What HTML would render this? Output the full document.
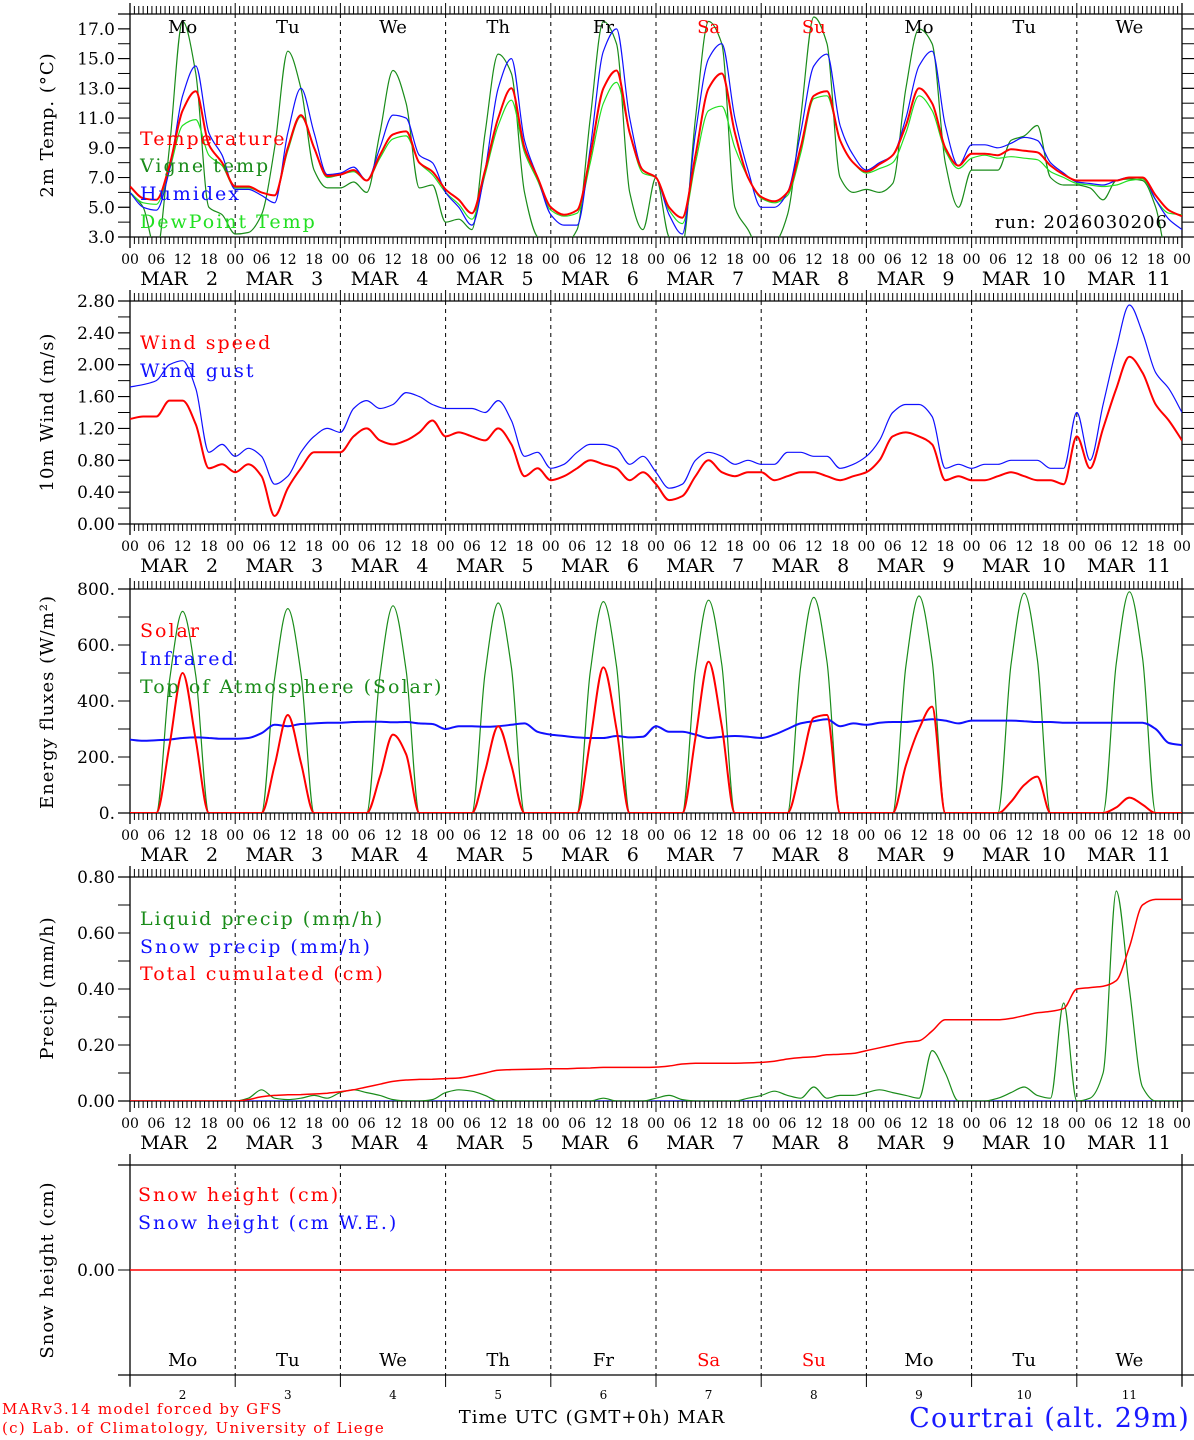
<!DOCTYPE html>
<html><head><meta charset="utf-8"><title>MAR meteogram Courtrai</title>
<style>
html,body{margin:0;padding:0;background:#fff;}
svg{display:block;font-family:"DejaVu Serif","Liberation Serif",serif;}
</style></head>
<body>
<svg id="chart" width="1194" height="1440" viewBox="0 0 1194 1440" xmlns="http://www.w3.org/2000/svg"></svg>
<script>
// ---- data (3-hourly, 81 points from MAR 2 00h to MAR 12 00h) ----
const dayNums = ["2","3","4","5","6","7","8","9","10","11"];
const dayNames = ["Mo","Tu","We","Th","Fr","Sa","Su","Mo","Tu","We"];
const hourLabels = ["00","06","12","18"];
const tempTicks = ["3.0","5.0","7.0","9.0","11.0","13.0","15.0","17.0"];
const windTicks = ["0.00","0.40","0.80","1.20","1.60","2.00","2.40","2.80"];
const fluxTicks = ["0.","200.","400.","600.","800."];
const precipTicks = ["0.00","0.20","0.40","0.60","0.80"];

const temperature = [6.4,5.6,5.5,7.8,11.5,12.8,9.2,8.0, 6.4,6.4,6.0,5.8,9.0,11.2,9.0,7.1, 7.2,7.5,6.8,8.5,9.9,10.1,8.0,7.4, 6.2,5.5,4.6,7.5,11.0,13.0,9.0,7.0, 5.0,4.5,4.8,8.5,13.0,14.2,10.0,7.5, 7.0,5.0,4.3,8.5,13.0,14.0,10.0,7.0, 5.7,5.4,6.0,9.0,12.5,12.8,9.5,8.0, 7.4,7.9,8.5,10.5,13.0,12.0,9.0,7.8, 8.6,8.6,8.5,8.9,8.8,8.7,7.8,7.2, 6.8,6.8,6.8,6.8,7.0,7.0,5.8,4.8, 4.4];
const vigneTemp = [6.0,5.0,2.0,9.0,17.5,14.0,5.0,4.5, 3.2,3.3,4.5,9.0,15.5,13.0,7.5,6.3, 6.3,6.7,6.0,10.0,14.2,12.0,6.3,6.5, 4.0,4.2,3.5,10.0,15.3,14.0,6.0,3.0, 2.5,2.5,3.5,11.0,17.5,16.0,6.0,3.5, 7.0,3.0,2.5,11.0,17.5,16.0,5.0,3.5, 2.0,2.5,4.5,11.0,17.8,16.0,7.0,6.0, 6.2,6.0,6.6,13.0,17.0,16.0,8.0,5.0, 7.5,7.5,7.5,9.5,9.8,10.5,7.0,6.5, 6.5,6.3,5.5,6.8,6.9,6.8,5.0,1.0, 0.0];
const humidex = [6.0,5.0,4.8,7.5,12.5,14.5,10.0,8.5, 6.2,6.2,5.8,5.3,10.0,13.0,10.0,7.2, 7.3,7.7,6.8,9.0,11.2,11.0,8.5,8.0, 6.0,5.0,3.8,7.5,13.0,15.0,9.5,7.0, 4.5,3.8,3.8,9.0,15.5,17.0,11.0,7.5, 7.0,4.5,3.2,10.0,15.0,16.0,11.0,7.5, 5.0,5.0,6.0,10.0,14.5,15.3,10.5,8.5, 7.5,8.0,8.5,11.0,14.5,15.5,10.5,7.8, 9.2,9.2,9.0,9.3,9.7,9.5,8.0,7.3, 6.7,6.6,6.5,6.8,7.0,7.0,5.5,4.2, 3.5];
const dewPoint = [6.0,5.3,5.2,7.5,10.5,10.9,8.5,7.8, 6.3,6.3,6.0,5.8,8.8,11.1,9.0,7.0, 7.2,7.4,6.8,8.3,9.6,9.8,8.0,7.2, 6.0,5.2,4.2,7.2,10.5,12.2,8.7,6.8, 4.8,4.4,4.6,8.0,12.0,13.4,10.0,7.3, 7.0,4.8,3.9,8.0,11.5,11.8,9.0,7.0, 5.6,5.3,5.8,8.6,12.3,12.5,9.5,8.0, 7.3,7.6,8.0,10.0,12.5,11.5,8.8,7.6, 8.3,8.5,8.3,8.4,8.3,8.2,7.4,7.0, 6.6,6.5,6.4,6.5,6.8,6.9,5.5,4.6, 4.5];

const windSpeed = [1.32,1.35,1.35,1.55,1.55,1.25,0.7,0.75, 0.65,0.75,0.6,0.1,0.45,0.7,0.9,0.9, 0.9,1.1,1.2,1.05,1.0,1.05,1.15,1.3, 1.1,1.15,1.1,1.05,1.2,1.0,0.6,0.7, 0.55,0.6,0.7,0.8,0.75,0.7,0.55,0.65, 0.5,0.3,0.35,0.6,0.8,0.65,0.6,0.65, 0.65,0.55,0.6,0.65,0.65,0.6,0.55,0.6, 0.65,0.8,1.1,1.15,1.1,1.0,0.55,0.6, 0.55,0.55,0.6,0.65,0.6,0.55,0.55,0.5, 1.1,0.7,1.2,1.7,2.1,1.9,1.5,1.3, 1.05];
const windGust = [1.72,1.75,1.8,2.0,2.05,1.7,0.9,1.0, 0.85,0.95,0.85,0.5,0.6,0.9,1.1,1.2, 1.15,1.45,1.55,1.45,1.5,1.65,1.6,1.5, 1.45,1.45,1.45,1.4,1.55,1.3,0.85,0.9, 0.7,0.75,0.9,1.0,1.0,0.95,0.75,0.85, 0.65,0.45,0.5,0.8,0.9,0.85,0.75,0.8, 0.75,0.75,0.9,0.9,0.85,0.85,0.7,0.75, 0.85,1.05,1.4,1.5,1.5,1.35,0.7,0.75, 0.7,0.75,0.75,0.8,0.8,0.8,0.7,0.7, 1.4,0.8,1.5,2.2,2.75,2.4,1.9,1.7, 1.4];

const solar = [0,0,0,240,500,260,0,0, 0,0,0,170,350,180,0,0, 0,0,0,130,280,210,0,0, 0,0,0,150,310,170,0,0, 0,0,0,260,520,300,0,0, 0,0,0,270,540,310,0,0, 0,0,0,160,340,350,0,0, 0,0,0,170,300,380,0,0, 0,0,0,40,100,130,0,0, 0,0,0,20,55,30,0,0, 0];
const infrared = [262,258,260,262,268,270,268,265, 265,268,285,315,310,318,320,322, 322,325,326,326,324,325,320,318, 300,310,310,308,310,315,320,290, 280,275,270,268,268,275,270,272, 310,290,290,280,268,272,275,272, 268,280,300,320,328,335,310,320, 315,322,325,325,330,335,330,320, 330,330,330,330,328,325,325,322, 322,322,322,322,322,322,300,250, 242];
const topOfAtmosphere = [0,0,0,470,720,490,0,0, 0,0,0,480,730,500,0,0, 0,0,0,490,740,510,0,0, 0,0,0,500,750,520,0,0, 0,0,0,505,755,525,0,0, 0,0,0,510,760,530,0,0, 0,0,0,520,770,540,0,0, 0,0,0,525,775,545,0,0, 0,0,0,530,785,550,0,0, 0,0,0,535,790,555,0,0, 0];

const liquidPrecip = [0,0,0,0,0,0,0,0, 0,0.01,0.04,0.01,0.005,0.01,0.02,0.01, 0.03,0.04,0.03,0.02,0.005,0,0,0.005, 0.03,0.04,0.035,0.02,0,0,0,0, 0,0,0,0,0.01,0,0,0, 0.01,0.02,0.005,0,0,0,0,0.01, 0.02,0.035,0.02,0.01,0.05,0.01,0.02,0.02, 0.03,0.04,0.03,0.02,0.01,0.18,0.1,0, 0,0,0.01,0.03,0.05,0.02,0.01,0.35, 0,0.01,0.1,0.75,0.4,0.05,0,0, 0];
const snowPrecip = [0,0,0,0,0,0,0,0, 0,0,0,0,0,0,0,0, 0,0,0,0,0,0,0,0, 0,0,0,0,0,0,0,0, 0,0,0,0,0,0,0,0, 0,0,0,0,0,0,0,0, 0,0,0,0,0,0,0,0, 0,0,0,0,0,0,0,0, 0,0,0,0,0,0,0,0, 0,0,0,0,0,0,0,0, 0];
const totalCumulated = [0,0,0,0,0,0,0,0, 0,0.005,0.015,0.02,0.022,0.023,0.025,0.028, 0.033,0.04,0.05,0.06,0.07,0.075,0.077,0.078, 0.08,0.082,0.09,0.1,0.11,0.112,0.113,0.114, 0.115,0.115,0.117,0.118,0.12,0.12,0.12,0.12, 0.121,0.125,0.132,0.135,0.135,0.135,0.135,0.136, 0.138,0.142,0.15,0.155,0.158,0.165,0.167,0.17, 0.18,0.19,0.2,0.21,0.215,0.25,0.29,0.29, 0.29,0.29,0.29,0.295,0.305,0.315,0.32,0.33, 0.40,0.405,0.41,0.43,0.55,0.70,0.72,0.72, 0.72];
const snowHeight = [0,0,0,0,0,0,0,0, 0,0,0,0,0,0,0,0, 0,0,0,0,0,0,0,0, 0,0,0,0,0,0,0,0, 0,0,0,0,0,0,0,0, 0,0,0,0,0,0,0,0, 0,0,0,0,0,0,0,0, 0,0,0,0,0,0,0,0, 0,0,0,0,0,0,0,0, 0,0,0,0,0,0,0,0, 0];

// ---- geometry ----
const NS = "http://www.w3.org/2000/svg";
const svg = document.getElementById("chart");
const X0 = 130, X1 = 1182, HOURS = 240;
function xScale(h){ return X0 + h*(X1-X0)/HOURS; }
function mk(tag, attrs, parent){
  const e = document.createElementNS(NS, tag);
  for (const k in attrs) e.setAttribute(k, attrs[k]);
  (parent||svg).appendChild(e);
  return e;
}
function txt(s, x, y, size, fill, anchor, parent){
  const t = mk("text", {x:x, y:y, "font-size":size, fill:fill||"#000", "text-anchor":anchor||"start"}, parent);
  t.textContent = s;
  return t;
}

const panels = [
  {name:"temperature-panel", top:14, bot:237, vmin:3, vmax:18},
  {name:"wind-panel", top:301, bot:524, vmin:0, vmax:2.8},
  {name:"energy-panel", top:589, bot:813, vmin:0, vmax:800},
  {name:"precip-panel", top:877, bot:1101, vmin:0, vmax:0.8},
  {name:"snow-panel", top:1165, bot:1375, vmin:-1, vmax:1}
];
function yScale(p, v){ return p.bot - (v - p.vmin)*(p.bot-p.top)/(p.vmax-p.vmin); }

function frame(p, idx){
  const g = mk("g", {});
  
  
  for (let d=1; d<10; d++){
    const x = xScale(d*24);
    mk("line",{x1:x,y1:p.top,x2:x,y2:p.bot,stroke:"#000","stroke-width":1,"stroke-dasharray":"4,4"},g);
  }
  mk("line",{x1:118,y1:p.top,x2:1194,y2:p.top,stroke:"#000","stroke-width":1.3},g);
  mk("line",{x1:118,y1:p.bot,x2:1194,y2:p.bot,stroke:"#000","stroke-width":1.3},g);
  mk("line",{x1:X0,y1:p.top-11,x2:X0,y2:p.bot+11,stroke:"#000","stroke-width":1.3},g);
  mk("line",{x1:X1,y1:p.top-11,x2:X1,y2:p.bot+11,stroke:"#000","stroke-width":1.3},g);
  if (idx < 4){
    for (let h=0; h<=HOURS; h++){
      const x = xScale(h);
      const big = h%24===0;
      mk("line",{x1:x,y1:p.top-(big?11:8),x2:x,y2:p.top,stroke:"#000","stroke-width":1},g);
      mk("line",{x1:x,y1:p.bot,x2:x,y2:p.bot+(big?11:7),stroke:"#000","stroke-width":1},g);
    }
    for (let d=0; d<=10; d++){
      for (let k=0;k<4;k++){
        if (d===10 && k>0) break;
        txt(hourLabels[k], xScale(d*24+k*6), p.bot+27, 14, "#000", "middle", g);
      }
    }
    for (let d=0; d<10; d++){
      const xc = xScale(d*24);
      txt("MAR", xc+34, p.bot+48, 19, "#000", "middle", g);
      txt(dayNums[d], xc+82, p.bot+48, 19, "#000", "middle", g);
    }
  } else {
    for (let d=0; d<=10; d++){
      const x = xScale(d*24);
      mk("line",{x1:x,y1:p.bot,x2:x,y2:p.bot+12,stroke:"#000","stroke-width":1},g);
    }
  }
  return g;
}
panels.forEach((p,i)=>frame(p,i));

function yTicks(p, labels, vals, minorStep){
  const g = mk("g",{});
  
  
  if (minorStep){
    for (let v=p.vmin; v<=p.vmax+1e-9; v+=minorStep){
      const y = yScale(p,v);
      mk("line",{x1:118,y1:y,x2:X0,y2:y,stroke:"#000"},g);
      mk("line",{x1:X1,y1:y,x2:1194,y2:y,stroke:"#000"},g);
    }
  }
  labels.forEach((lab,i)=>{
    const y = yScale(p, vals[i]);
    mk("line",{x1:118,y1:y,x2:X0,y2:y,stroke:"#000"},g);
    mk("line",{x1:X1,y1:y,x2:1194,y2:y,stroke:"#000"},g);
    txt(lab, 115, y+6, 17, "#000", "end", g);
  });
}
yTicks(panels[0], tempTicks, tempTicks.map(Number), 1);
yTicks(panels[1], windTicks, windTicks.map(Number), 0.2);
yTicks(panels[2], fluxTicks, fluxTicks.map(Number), 100);
yTicks(panels[3], precipTicks, precipTicks.map(Number), 0.1);
yTicks(panels[4], ["0.00"], [0], 0);

const defs = mk("defs",{});
panels.forEach((p,i)=>{
  const c = mk("clipPath",{id:"clip"+i},defs);
  mk("rect",{x:X0,y:p.top,width:X1-X0,height:p.bot-p.top},c);
});

function monoPath(xs, ys){
  const n = xs.length, d = [], m = new Array(n);
  for (let i=0;i<n-1;i++) d.push((ys[i+1]-ys[i])/(xs[i+1]-xs[i]));
  m[0]=d[0]; m[n-1]=d[n-2];
  for (let i=1;i<n-1;i++){
    if (d[i-1]*d[i] <= 0) m[i]=0;
    else m[i] = 2/(1/d[i-1]+1/d[i]);
  }
  let s = "M"+xs[0].toFixed(1)+","+ys[0].toFixed(1);
  for (let i=0;i<n-1;i++){
    const h = (xs[i+1]-xs[i])/3;
    s += " C"+(xs[i]+h).toFixed(1)+","+(ys[i]+m[i]*h).toFixed(1)+" "+(xs[i+1]-h).toFixed(1)+","+(ys[i+1]-m[i+1]*h).toFixed(1)+" "+xs[i+1].toFixed(1)+","+ys[i+1].toFixed(1);
  }
  return s;
}
function series(pi, arr, color, width, name){
  const p = panels[pi];
  const xs = arr.map((v,i)=> xScale(i*3));
  const ys = arr.map(v=> yScale(p,v));
  const pl = mk("path",{d:monoPath(xs,ys),fill:"none",stroke:color,"stroke-width":width,"stroke-linejoin":"round","clip-path":"url(#clip"+pi+")"});
  
  
}
series(0, vigneTemp, "#1a8c1a", 1.2, "vigne-temp-line");
series(0, dewPoint, "#22e022", 1.2, "dewpoint-line");
series(0, humidex, "#1010ff", 1.2, "humidex-line");
series(0, temperature, "#ff0000", 2, "temperature-line");
series(1, windGust, "#1010ff", 1.2, "wind-gust-line");
series(1, windSpeed, "#ff0000", 2, "wind-speed-line");
series(2, topOfAtmosphere, "#1a8c1a", 1.2, "toa-solar-line");
series(2, infrared, "#1010ff", 2, "infrared-line");
series(2, solar, "#ff0000", 2, "solar-line");
series(3, snowPrecip, "#1010ff", 1.2, "snow-precip-line");
series(3, liquidPrecip, "#1a8c1a", 1.2, "liquid-precip-line");
series(3, totalCumulated, "#ff0000", 1.5, "total-cumulated-line");
series(4, snowHeight, "#ff0000", 1.5, "snow-height-line");

function dayRow(y){
  dayNames.forEach((n,d)=>{
    const col = (d===5||d===6) ? "#ff0000" : "#000";
    const t = txt(n, xScale(d*24+12), y, 18, col, "middle");
    
    
  });
}
dayRow(33);
dayRow(1366);
dayNums.forEach((n,d)=>{
  const t = txt(n, xScale(d*24+12), 1399, 12, "#000", "middle");
  
  
});

function legend(items, x){
  items.forEach(it=>{
    const t = txt(it[0], x, it[2], 19, it[1], "start");
    t.setAttribute("letter-spacing","2");
    
    
  });
}
legend([["Temperature","#ff0000",145],["Vigne temp","#1a8c1a",172],["Humidex","#1010ff",200],["DewPoint Temp","#22e022",228]],140);
legend([["Wind speed","#ff0000",349],["Wind gust","#1010ff",377]],140);
legend([["Solar","#ff0000",637],["Infrared","#1010ff",665],["Top of Atmosphere (Solar)","#1a8c1a",693]],140);
legend([["Liquid precip (mm/h)","#1a8c1a",925],["Snow precip (mm/h)","#1010ff",953],["Total cumulated (cm)","#ff0000",980]],140);
legend([["Snow height (cm)","#ff0000",1201],["Snow height (cm W.E.)","#1010ff",1229]],138);

const run = txt("run: 2026030206", 1168, 228, 18, "#000", "end");
run.setAttribute("letter-spacing","1");



function yTitle(s, cy, name){
  const t = txt(s, 0, 0, 18, "#000", "middle");
  t.setAttribute("transform","translate(53,"+cy+") rotate(-90)");
  t.setAttribute("letter-spacing","1");
  
  
  return t;
}
yTitle("2m Temp. (\u00B0C)", 125, "temp-y-axis-title");
yTitle("10m Wind (m/s)", 412, "wind-y-axis-title");
yTitle("Energy fluxes (W/m\u00B2)", 702, "energy-y-axis-title");
yTitle("Precip (mm/h)", 988, "precip-y-axis-title");
yTitle("Snow height (cm)", 1270, "snow-y-axis-title");

const f1 = txt("MARv3.14 model forced by GFS", 2, 1414, 15, "#ff0000");
f1.setAttribute("letter-spacing","1.3");


const f2 = txt("(c) Lab. of Climatology, University of Liege", 2, 1433, 15, "#ff0000");
f2.setAttribute("letter-spacing","1.3");


const xt = txt("Time UTC (GMT+0h) MAR", 592, 1423, 18, "#000", "middle");
xt.setAttribute("letter-spacing","1");


const loc = txt("Courtrai (alt. 29m)", 1190, 1427, 27, "#1a1aff", "end");
loc.setAttribute("letter-spacing","1.2");


</script>
</body></html>
